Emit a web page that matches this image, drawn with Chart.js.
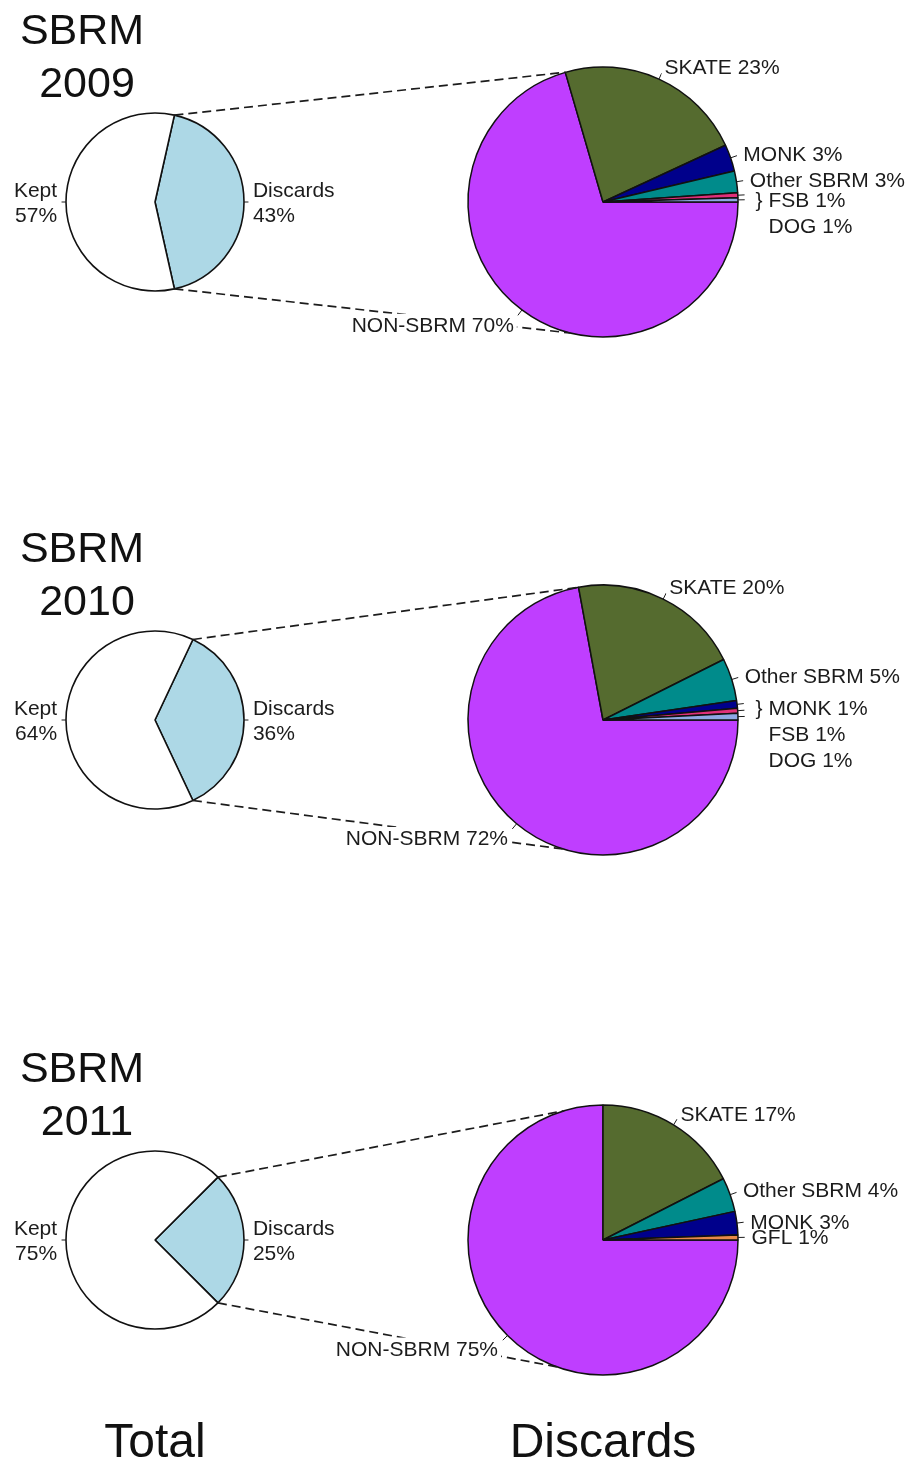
<!DOCTYPE html>
<html lang="en">
<head>
    <meta charset="UTF-8">
    <title>SBRM Discards 2009-2011</title>
    <script src="https://cdn.jsdelivr.net/npm/chart.js"></script>
    <style>
        body {
            margin: 0;
            background: #fff;
        }
        #page {
            position: relative;
            width: 908px;
            height: 1462px;
            overflow: hidden;
        }
        #page canvas {
            position: absolute;
            left: 0;
        }
    </style>
</head>
<body>
    <div id="page"></div>

    <script>
        // ---- data ----
        var years = ['2009', '2010', '2011'];
        var totalNames = ['Discards', 'Kept'];
        var total2009 = [43, 57];
        var total2010 = [36, 64];
        var total2011 = [25, 75];

        // slices in clockwise order starting at 3 o'clock
        var names2009 = ['NON-SBRM', 'SKATE', 'MONK', 'Other SBRM', 'FSB', 'DOG'];
        var values2009 = [70.5, 22.6, 3.2, 2.6, 0.6, 0.5];
        var pct2009 = [70, 23, 3, 3, 1, 1];

        var names2010 = ['NON-SBRM', 'SKATE', 'Other SBRM', 'MONK', 'FSB', 'DOG'];
        var values2010 = [72.1, 20.5, 5.1, 0.9, 0.6, 0.8];
        var pct2010 = [72, 20, 5, 1, 1, 1];

        var names2011 = ['NON-SBRM', 'SKATE', 'Other SBRM', 'MONK', 'GFL'];
        var values2011 = [75, 17.5, 4.1, 2.8, 0.6];
        var pct2011 = [75, 17, 4, 3, 1];

        var colors = {
            'NON-SBRM': '#BF3EFF',
            'SKATE': '#556B2F',
            'MONK': '#00008B',
            'Other SBRM': '#008B8B',
            'FSB': '#E0307A',
            'DOG': '#8FA8E4',
            'GFL': '#E8894A',
            'Discards': '#ADD8E6',
            'Kept': '#FFFFFF'
        };

        // ---- layout ----
        var centers = [202, 720, 1240];      // pie centre y on the page
        var connectTop = [106, 101, 107];    // degrees (ccw from east) where the dashed lines meet the big pie
        var connectBottom = [256, 253, 250];
        var INK = '#1c1c1c';
        var LABEL_FONT = '21px "Liberation Sans", Arial, sans-serif';
        var LINE_H = 25;

        var rows = [
            { year: years[0], total: total2009, names: names2009, values: values2009, pct: pct2009, group: 2 },
            { year: years[1], total: total2010, names: names2010, values: values2010, pct: pct2010, group: 3 },
            { year: years[2], total: total2011, names: names2011, values: values2011, pct: pct2011, group: 0 }
        ];

        var smallCharts = [];

        var sbrmPlugin = {
            id: 'sbrm',
            afterDraw: function (chart, args, opts) {
                var row = rows[opts.row];
                var ctx = chart.ctx;
                var arcs = chart.getDatasetMeta(0).data;
                var isBig = opts.kind === 'big';
                ctx.save();

                // dashed lines from the Discards wedge to the big pie
                if (isBig) {
                    var s = smallCharts[opts.row].getDatasetMeta(0).data[0];
                    var b = arcs[0];
                    var ends = [[s.startAngle, connectTop[opts.row]], [s.endAngle, connectBottom[opts.row]]];
                    ctx.setLineDash([9, 5]);
                    ctx.lineWidth = 1.7;
                    ctx.strokeStyle = INK;
                    ends.forEach(function (e) {
                        var t = -e[1] * Math.PI / 180;
                        ctx.beginPath();
                        ctx.moveTo(s.x + Math.cos(e[0]) * s.outerRadius, s.y + Math.sin(e[0]) * s.outerRadius);
                        ctx.lineTo(b.x + Math.cos(t) * b.outerRadius, b.y + Math.sin(t) * b.outerRadius);
                        ctx.stroke();
                    });
                    ctx.setLineDash([]);
                }

                // slice labels, R pie() style: tick from r to 1.05r, text at 1.1r
                ctx.font = LABEL_FONT;
                ctx.strokeStyle = INK;
                ctx.lineWidth = 1;
                var n = arcs.length;
                var groupStart = isBig ? n - row.group : n;
                var groupTicks = [];
                var items = [];
                arcs.forEach(function (arc, k) {
                    var mid = (arc.startAngle + arc.endAngle) / 2;
                    var c = Math.cos(mid), sn = Math.sin(mid), r = arc.outerRadius;
                    ctx.beginPath();
                    ctx.moveTo(arc.x + c * r, arc.y + sn * r);
                    ctx.lineTo(arc.x + c * r * 1.05, arc.y + sn * r * 1.05);
                    ctx.stroke();
                    if (k >= groupStart) {
                        groupTicks.push(arc.y + sn * r * 1.05);
                        return;
                    }
                    var lines = isBig ? [row.names[k] + ' ' + row.pct[k] + '%']
                                      : [totalNames[k], row.total[k] + '%'];
                    var dy = 1.5 + 5 * Math.max(0, sn);
                    items.push({
                        lines: lines,
                        x: arc.x + c * r * 1.1,
                        y: arc.y + sn * r * 1.1 + dy,
                        align: c >= 0 ? 'left' : 'right'
                    });
                });

                // white boxes first so neighbouring labels never hide each other
                ctx.fillStyle = '#fff';
                items.forEach(function (it) {
                    var h = it.lines.length * LINE_H;
                    var w = Math.max.apply(null, it.lines.map(function (l) { return ctx.measureText(l).width; }));
                    var x0 = it.align === 'left' ? it.x : it.x - w;
                    ctx.fillRect(x0 - 3, it.y - h / 2, w + 6, h - 2);
                });
                ctx.fillStyle = INK;
                ctx.textBaseline = 'middle';
                items.forEach(function (it) {
                    var h = it.lines.length * LINE_H;
                    ctx.textAlign = it.align;
                    it.lines.forEach(function (l, j) {
                        ctx.fillText(l, it.x, it.y - h / 2 + LINE_H * (j + 0.5));
                    });
                });

                // tiny slices share one bracketed label
                if (groupTicks.length) {
                    var a0 = arcs[0];
                    var gx = a0.x + a0.outerRadius * 1.1;
                    var gy = groupTicks[0] + 6;
                    ctx.textAlign = 'left';
                    ctx.fillText('}', gx + 4, gy);
                    for (var k = groupStart; k < n; k++) {
                        ctx.fillText(row.names[k] + ' ' + row.pct[k] + '%', gx + 17, gy + (k - groupStart) * 26);
                    }
                }

                // year title and bottom captions
                if (isBig) {
                    var cy = arcs[0].y;
                    ctx.fillStyle = '#111';
                    ctx.textAlign = 'center';
                    ctx.textBaseline = 'alphabetic';
                    ctx.font = '43px "Liberation Sans", Arial, sans-serif';
                    ctx.fillText('SBRM', 82, cy - 158);
                    ctx.fillText(row.year, 87, cy - 105);
                    if (opts.caption) {
                        var sm = smallCharts[opts.row].getDatasetMeta(0).data[0];
                        ctx.font = '48px "Liberation Sans", Arial, sans-serif';
                        ctx.fillText('Total', sm.x, cy + 217);
                        ctx.fillText('Discards', arcs[0].x, cy + 217);
                    }
                }
                ctx.restore();
            }
        };

        function makeCanvas(top, w, h, z) {
            var cv = document.createElement('canvas');
            cv.width = w;
            cv.height = h;
            cv.style.top = top + 'px';
            cv.style.width = w + 'px';
            cv.style.height = h + 'px';
            cv.style.zIndex = z;
            document.getElementById('page').appendChild(cv);
            return cv;
        }

        function pieOptions(radius, rotation, padding, plug) {
            return {
                responsive: false,
                animation: false,
                events: [],
                radius: radius,
                rotation: rotation,
                layout: { padding: padding },
                plugins: {
                    legend: { display: false },
                    tooltip: { enabled: false },
                    sbrm: plug
                }
            };
        }

        rows.forEach(function (row, i) {
            var top = centers[i] - 200;

            // Total: Kept vs Discards, Discards wedge centred on 3 o'clock
            var frac = row.total[0] / (row.total[0] + row.total[1]);
            smallCharts[i] = new Chart(makeCanvas(top, 400, 400, 1), {
                type: 'pie',
                data: {
                    labels: totalNames,
                    datasets: [{
                        data: row.total,
                        backgroundColor: totalNames.map(function (nm) { return colors[nm]; }),
                        borderColor: '#111',
                        borderWidth: 1.6
                    }]
                },
                options: pieOptions(89, 90 - frac * 180,
                    { left: 66, right: 156, top: 111, bottom: 111 },
                    { row: i, kind: 'small' }),
                plugins: [sbrmPlugin]
            });

            // Discards breakdown
            new Chart(makeCanvas(top, 908, 440, 2), {
                type: 'pie',
                data: {
                    labels: row.names,
                    datasets: [{
                        data: row.values,
                        backgroundColor: row.names.map(function (nm) { return colors[nm]; }),
                        borderColor: '#111',
                        borderWidth: 1.5
                    }]
                },
                options: pieOptions(135, 90,
                    { left: 468, right: 170, top: 65, bottom: 105 },
                    { row: i, kind: 'big', caption: i === rows.length - 1 }),
                plugins: [sbrmPlugin]
            });
        });
    </script>
</body>
</html>
